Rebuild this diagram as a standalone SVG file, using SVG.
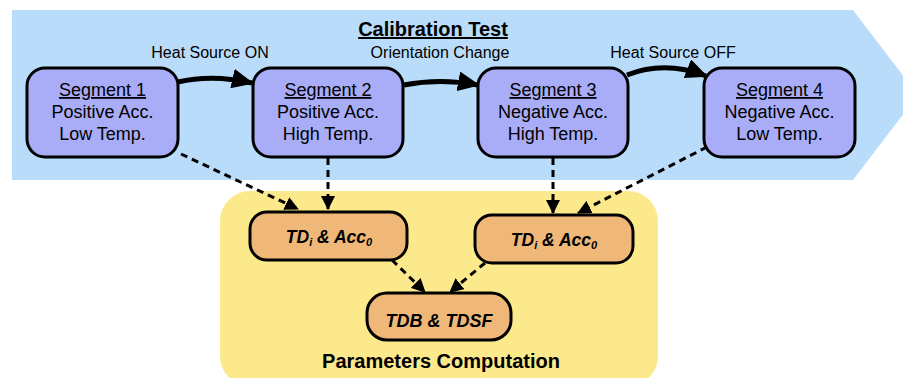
<svg xmlns="http://www.w3.org/2000/svg" width="903" height="378" viewBox="0 0 903 378">
<style>
.seg{fill:#a9adf7;stroke:#000;stroke-width:3}
.calc{fill:#efb878;stroke:#000;stroke-width:3}
.t{font-family:"Liberation Sans",Arial,sans-serif;fill:#000;text-anchor:middle}
.st{font-size:18px}
.lbl{font-size:16px}
.sol{fill:none;stroke:#000;stroke-width:5}
.dash{fill:none;stroke:#000;stroke-width:3;stroke-dasharray:7 5}
.it{font-style:italic;font-weight:600}
</style>
<defs>
<marker id="ah" markerUnits="userSpaceOnUse" markerWidth="22" markerHeight="20" refX="20" refY="10" orient="auto"><path d="M0,0 L22,10 L0,20 z" fill="#000"/></marker>
<marker id="dh" markerUnits="userSpaceOnUse" markerWidth="14" markerHeight="14" refX="13" refY="7" orient="auto"><path d="M0,0 L14,7 L0,14 z" fill="#000"/></marker>
</defs>
<polygon id="calib-bg" points="12,10 853,10 918,95 853,180 12,180" fill="#b9dcfb"/>
<rect id="param-bg" x="220" y="191" width="438" height="195" rx="30" fill="#fce98b"/>
<text class="t" x="433" y="36" font-size="20" font-weight="bold" text-decoration="underline">Calibration Test</text>
<text class="t" x="441" y="368" font-size="20" font-weight="600">Parameters Computation</text>
<g id="connectors">
<path class="sol" d="M178,82 Q212,74 252,83" marker-end="url(#ah)"/>
<path class="sol" d="M404,85 Q440,78 478,85" marker-end="url(#ah)"/>
<path class="sol" d="M627,75 Q665,60 706,76" marker-end="url(#ah)"/>
<text class="t lbl" x="210" y="58">Heat Source ON</text>
<text class="t lbl" x="440" y="58">Orientation Change</text>
<text class="t lbl" x="673" y="58">Heat Source OFF</text>
<path class="dash" d="M181,154 L298,209" marker-end="url(#dh)"/>
<path class="dash" d="M328,158 L328,209" marker-end="url(#dh)"/>
<path class="dash" d="M553,158 L553,213" marker-end="url(#dh)"/>
<path class="dash" d="M707,147 L578,213" marker-end="url(#dh)"/>
<path class="dash" d="M392,260 L425,292" marker-end="url(#dh)"/>
<path class="dash" d="M485,263 L450,292" marker-end="url(#dh)"/>
</g>
<g id="seg1">
<rect class="seg" x="27" y="68" width="151" height="89" rx="18"/>
<text class="t st" x="102.5" y="96" text-decoration="underline">Segment 1</text>
<text class="t st" x="102.5" y="118">Positive Acc.</text>
<text class="t st" x="102.5" y="140">Low Temp.</text>
</g>
<g id="seg2">
<rect class="seg" x="253" y="68" width="150" height="89" rx="18"/>
<text class="t st" x="328" y="96" text-decoration="underline">Segment 2</text>
<text class="t st" x="328" y="118">Positive Acc.</text>
<text class="t st" x="328" y="140">High Temp.</text>
</g>
<g id="seg3">
<rect class="seg" x="478" y="68" width="150" height="89" rx="18"/>
<text class="t st" x="553" y="96" text-decoration="underline">Segment 3</text>
<text class="t st" x="553" y="118">Negative Acc.</text>
<text class="t st" x="553" y="140">High Temp.</text>
</g>
<g id="seg4">
<rect class="seg" x="704" y="68" width="151" height="89" rx="18"/>
<text class="t st" x="779.5" y="96" text-decoration="underline">Segment 4</text>
<text class="t st" x="779.5" y="118">Negative Acc.</text>
<text class="t st" x="779.5" y="140">Low Temp.</text>
</g>
<g id="td1">
<rect class="calc" x="250" y="212" width="157" height="48" rx="17"/>
<text class="t it" x="329" y="243" font-size="17.5">TD<tspan font-size="11" dy="3">i</tspan><tspan dy="-3"> &amp; Acc</tspan><tspan font-size="11" dy="3">0</tspan></text>
</g>
<g id="td2">
<rect class="calc" x="475" y="215" width="158" height="48" rx="17"/>
<text class="t it" x="554" y="246" font-size="17.5">TD<tspan font-size="11" dy="3">i</tspan><tspan dy="-3"> &amp; Acc</tspan><tspan font-size="11" dy="3">0</tspan></text>
</g>
<g id="tdb">
<rect class="calc" x="367" y="293" width="144" height="47" rx="20"/>
<text class="t it" x="439" y="327" font-size="18">TDB &amp; TDSF</text>
</g>
</svg>
